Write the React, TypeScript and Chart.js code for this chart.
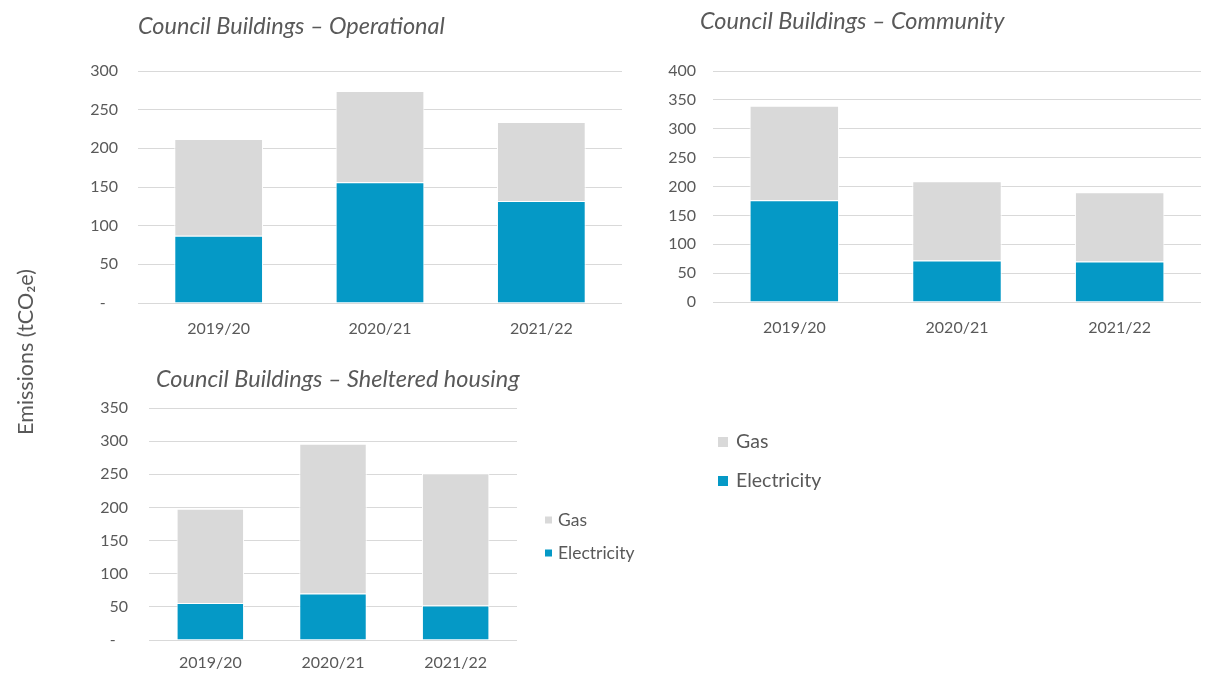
import React, { useEffect, useRef } from 'react';
import { Chart, registerables } from 'chart.js';

Chart.register(...registerables);

const categories = ['2019/20', '2020/21', '2021/22'];

const operationalElectricity = [87, 156, 132];
const operationalGas = [125, 118, 102];

const communityElectricity = [176, 72, 70];
const communityGas = [164, 137, 120];

const shelteredElectricity = [56, 70, 52];
const shelteredGas = [142, 226, 199];

const seriesLabels = ['Electricity', 'Gas'];
const titles = [
  'Council Buildings \u2013 Operational',
  'Council Buildings \u2013 Community',
  'Council Buildings \u2013 Sheltered housing',
];
const yAxisTitle = 'Emissions (tCO\u2082e)';

const W = 1210;
const H = 673;
const FONT = 'Lato, "Open Sans", sans-serif';
const TEXT = '#595959';
const ELEC = '#0599C6';
const GAS = '#D9D9D9';
const GRID = '#D9D9D9';

type TextItem = {
  text: string;
  x: number;
  y: number;
  font: string;
  align?: CanvasTextAlign;
  baseline?: CanvasTextBaseline;
  rotate?: number;
};
type LegendSpec = { x: number; y: number; gap: number; box: number; size: number; textGap: number };

function makeOverlay(texts: TextItem[], legends: LegendSpec[]) {
  return {
    id: 'overlay',
    afterDraw(chart: any) {
      const ctx: CanvasRenderingContext2D = chart.ctx;
      texts.forEach((t) => {
        ctx.save();
        ctx.font = t.font;
        ctx.fillStyle = TEXT;
        ctx.textAlign = t.align || 'left';
        ctx.textBaseline = t.baseline || 'alphabetic';
        ctx.translate(t.x, t.y);
        if (t.rotate) ctx.rotate(t.rotate);
        ctx.fillText(t.text, 0, 0);
        ctx.restore();
      });
      legends.forEach((lg) => {
        const ds = chart.data.datasets.slice().reverse();
        ds.forEach((d: any, i: number) => {
          const cy = lg.y + i * lg.gap;
          ctx.save();
          ctx.fillStyle = d.backgroundColor;
          ctx.fillRect(lg.x, cy - lg.box / 2, lg.box, lg.box);
          ctx.font = `${lg.size}px ${FONT}`;
          ctx.fillStyle = TEXT;
          ctx.textBaseline = 'middle';
          ctx.textAlign = 'left';
          ctx.fillText(d.label, lg.x + lg.box + lg.textGap, cy);
          ctx.restore();
        });
      });
    },
  };
}

type Spec = {
  elec: number[];
  gas: number[];
  max: number;
  zeroDash: boolean;
  area: { left: number; right: number; top: number; bottom: number };
  yw: number;
  xh: number;
  yPad: number;
  xPad: number;
  texts: TextItem[];
  legends: LegendSpec[];
};

function makeConfig(s: Spec): any {
  return {
    type: 'bar',
    data: {
      labels: categories,
      datasets: [
        {
          label: seriesLabels[0],
          data: s.elec,
          backgroundColor: ELEC,
          borderColor: '#FFFFFF',
          borderWidth: 1,
          barPercentage: 0.55,
          categoryPercentage: 1,
        },
        {
          label: seriesLabels[1],
          data: s.gas,
          backgroundColor: GAS,
          borderColor: '#FFFFFF',
          borderWidth: 1,
          barPercentage: 0.55,
          categoryPercentage: 1,
        },
      ],
    },
    options: {
      responsive: false,
      animation: false,
      devicePixelRatio: 1,
      layout: {
        padding: {
          left: s.area.left - s.yw,
          right: W - s.area.right,
          top: s.area.top,
          bottom: H - s.area.bottom - s.xh,
        },
      },
      plugins: {
        legend: { display: false },
        title: { display: false },
        tooltip: { enabled: false },
      },
      scales: {
        x: {
          stacked: true,
          grid: { display: false, drawTicks: false },
          border: { display: false },
          ticks: { color: TEXT, font: { family: FONT, size: 16 }, padding: s.xPad, maxRotation: 0 },
          afterFit: (sc: any) => {
            sc.height = s.xh;
          },
        },
        y: {
          stacked: true,
          min: 0,
          max: s.max,
          grid: { color: GRID, lineWidth: 1, drawTicks: false },
          border: { display: false },
          ticks: {
            stepSize: 50,
            color: TEXT,
            font: { family: FONT, size: 16 },
            padding: s.yPad,
            callback: (v: number) => (v === 0 && s.zeroDash ? '-   ' : String(v)),
          },
          afterFit: (sc: any) => {
            sc.width = s.yw;
          },
        },
      },
    },
    plugins: [makeOverlay(s.texts, s.legends)],
  };
}

const specs: Spec[] = [
  {
    elec: operationalElectricity,
    gas: operationalGas,
    max: 300,
    zeroDash: true,
    area: { left: 138, right: 622, top: 71, bottom: 303 },
    yw: 60,
    xh: 45,
    yPad: 20,
    xPad: 16,
    texts: [
      { text: titles[0], x: 138, y: 34, font: `italic 23.5px ${FONT}` },
      {
        text: yAxisTitle,
        x: 26,
        y: 352,
        font: `21.5px ${FONT}`,
        align: 'center',
        baseline: 'middle',
        rotate: -Math.PI / 2,
      },
    ],
    legends: [],
  },
  {
    elec: communityElectricity,
    gas: communityGas,
    max: 400,
    zeroDash: false,
    area: { left: 713, right: 1201, top: 71, bottom: 302 },
    yw: 60,
    xh: 45,
    yPad: 17,
    xPad: 16,
    texts: [{ text: titles[1], x: 700, y: 29, font: `italic 23.5px ${FONT}` }],
    legends: [{ x: 718, y: 442, gap: 39, box: 10, size: 19.5, textGap: 8 }],
  },
  {
    elec: shelteredElectricity,
    gas: shelteredGas,
    max: 350,
    zeroDash: true,
    area: { left: 149, right: 517, top: 408, bottom: 640 },
    yw: 60,
    xh: 33,
    yPad: 21,
    xPad: 13,
    texts: [{ text: titles[2], x: 156, y: 387, font: `italic 23.5px ${FONT}` }],
    legends: [{ x: 545, y: 520, gap: 33, box: 7, size: 17.5, textGap: 6 }],
  },
];

function ChartLayer({ spec }: { spec: Spec }) {
  const ref = useRef<HTMLCanvasElement | null>(null);
  useEffect(() => {
    if (!ref.current) return;
    const chart = new Chart(ref.current, makeConfig(spec));
    return () => chart.destroy();
  }, [spec]);
  return (
    <canvas
      ref={ref}
      width={W}
      height={H}
      style={{ position: 'absolute', left: 0, top: 0, width: W, height: H }}
    />
  );
}

export default function App() {
  return (
    <div
      style={{
        position: 'fixed',
        left: 0,
        top: 0,
        width: W,
        height: H,
        background: '#FFFFFF',
        overflow: 'hidden',
      }}
    >
      {specs.map((s, i) => (
        <ChartLayer key={i} spec={s} />
      ))}
    </div>
  );
}
